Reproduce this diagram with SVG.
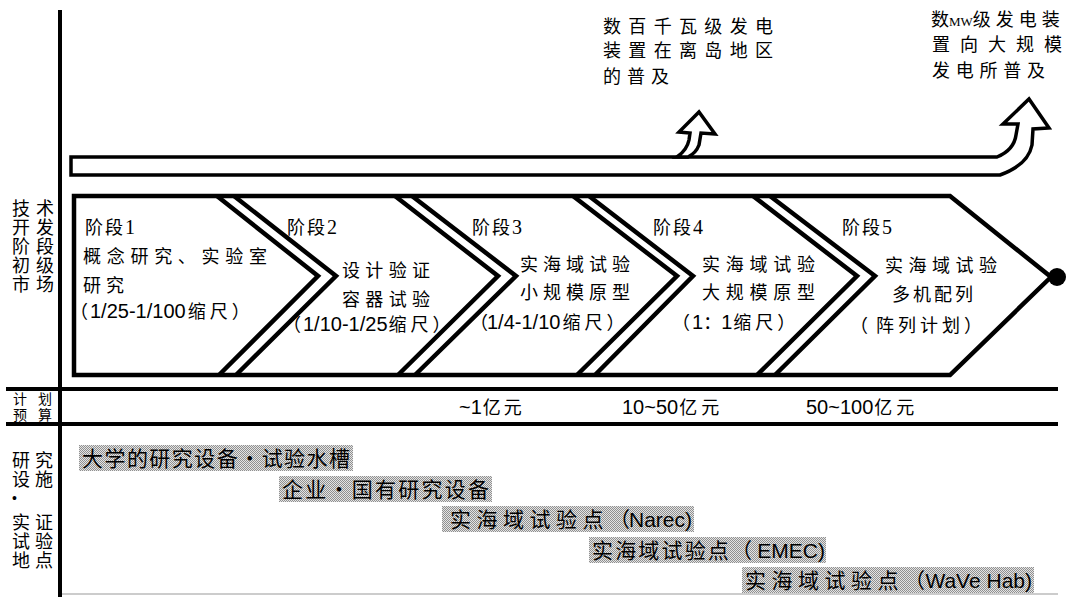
<svg xmlns="http://www.w3.org/2000/svg" width="1074" height="597" viewBox="0 0 1074 597">
<defs>
<style>
.t{font-family:"Liberation Sans","Noto Sans CJK SC",sans-serif;font-size:18px;fill:#000}
.s{font-family:"Liberation Serif","Noto Sans CJK SC",serif;font-size:18px;fill:#000}
.sm{font-family:"Liberation Sans","Noto Sans CJK SC",sans-serif;font-size:14px;fill:#000}
.f{font-family:"Liberation Sans","Noto Sans CJK SC",sans-serif;font-size:21px;fill:#000}
.ln{fill:none;stroke:#000;stroke-width:4.5;stroke-linejoin:miter;stroke-miterlimit:10}
.ax{stroke:#000;stroke-width:4}
.band{fill:#fff;stroke:#000;stroke-width:3.5;stroke-linejoin:miter}
.hb{fill:url(#dots)}
</style>
<pattern id="dots" width="2" height="2" patternUnits="userSpaceOnUse"><rect width="2" height="2" fill="#e4e4e4"/><rect width="1" height="1" fill="#909090"/><rect x="1" y="1" width="1" height="1" fill="#909090"/></pattern>
</defs>
<rect width="1074" height="597" fill="#fff"/>
<g id="axes">
<line class="ax" x1="60" y1="10" x2="60" y2="597"/>
<line class="ax" x1="6" y1="389" x2="1058" y2="389"/>
<line class="ax" x1="6" y1="424" x2="1058" y2="424"/>
<line x1="62" y1="594" x2="1058" y2="594" stroke="#bbb" stroke-width="1.5"/>
</g>
<g id="row-labels">
<text class="t" x="12" y="215" letter-spacing="6">技术</text>
<text class="t" x="12" y="234" letter-spacing="6">开发</text>
<text class="t" x="12" y="253" letter-spacing="6">阶段</text>
<text class="t" x="12" y="272" letter-spacing="6">初级</text>
<text class="t" x="12" y="291" letter-spacing="6">市场</text>
<text class="sm" x="13" y="404" letter-spacing="11">计划</text>
<text class="sm" x="13" y="420" letter-spacing="11">预算</text>
<text class="t" x="12" y="467" letter-spacing="5">研究</text>
<text class="t" x="12" y="486" letter-spacing="5">设施</text>
<text class="sm" x="12" y="503">•</text>
<text class="t" x="12" y="529" letter-spacing="5">实证</text>
<text class="t" x="12" y="548" letter-spacing="5">试验</text>
<text class="t" x="12" y="567" letter-spacing="5">地点</text>
</g>
<g id="connectors">
<path id="band" class="band" d="M71,157 L997,157 Q1014,150 1016,135 L1018,124 L1003,124 L1029,99 L1049,128 L1033,129 L1032,145 Q1028,165 1000,175 L71,175 Z"/>
<path id="branch" class="band" d="M677,157 Q687,150 689,140 L690,133 L679,132 L699,112 L715,134 L701,133 L699,145 Q696,153 688,157 Z"/>
</g>
<g id="outcome1">
<text class="t" x="603" y="33" textLength="170">数百千瓦级发电</text>
<text class="t" x="603" y="57" textLength="170">装置在离岛地区</text>
<text class="t" x="603" y="83" textLength="66">的普及</text>
</g>
<g id="outcome2">
<text class="t" x="931" y="26">数<tspan font-family="Liberation Serif" style="font-size:13px">MW</tspan><tspan letter-spacing="5">级发电装</tspan></text>
<text class="t" x="932" y="51" textLength="130">置向大规模</text>
<text class="t" x="932" y="77" textLength="113">发电所普及</text>
</g>
<g id="stages">
<polygon class="ln" points="74,196 950,196 1051,277 950,375 74,375"/>
<circle cx="1057" cy="277" r="9" fill="#000"/>
<polyline class="ln" points="217,196 318,276 219,375"/>
<polyline class="ln" points="234,196 336,276 236,375"/>
<polyline class="ln" points="395,196 498,276 398,375"/>
<polyline class="ln" points="412,196 516,276 415,375"/>
<polyline class="ln" points="573,196 677,276 577,375"/>
<polyline class="ln" points="589,196 693,276 595,375"/>
<polyline class="ln" points="753,196 857,276 757,375"/>
<polyline class="ln" points="770,196 875,276 775,375"/>
</g>
<g id="stage1">
<text class="s" x="85" y="234" letter-spacing="2">阶段<tspan style="font-size:20px">1</tspan></text>
<text class="t" x="83" y="263" textLength="184">概念研究、实验室</text>
<text class="t" x="83" y="292" letter-spacing="5">研究</text>
<text class="t" y="318"><tspan x="70">（</tspan><tspan x="90" style="font-size:20px">1/25-1/100</tspan><tspan dx="2" letter-spacing="4">缩尺）</tspan></text>
</g>
<g id="stage2">
<text class="s" x="287" y="234" letter-spacing="2">阶段<tspan style="font-size:20px">2</tspan></text>
<text class="t" x="342" y="277" textLength="88">设计验证</text>
<text class="t" x="342" y="306" textLength="88">容器试验</text>
<text class="t" y="331"><tspan x="283">（</tspan><tspan x="303" style="font-size:20px">1/10-1/25</tspan><tspan dx="1" letter-spacing="4">缩尺）</tspan></text>
</g>
<g id="stage3">
<text class="s" x="472" y="234" letter-spacing="2">阶段<tspan style="font-size:20px">3</tspan></text>
<text class="t" x="520" y="271" textLength="110">实海域试验</text>
<text class="t" x="520" y="299" textLength="110">小规模原型</text>
<text class="t" y="329"><tspan x="470">（</tspan><tspan x="487" style="font-size:20px">1/4-1/10</tspan><tspan dx="2" letter-spacing="4">缩尺）</tspan></text>
</g>
<g id="stage4">
<text class="s" x="653" y="234" letter-spacing="2">阶段<tspan style="font-size:20px">4</tspan></text>
<text class="t" x="702" y="271" textLength="113">实海域试验</text>
<text class="t" x="702" y="299" textLength="113">大规模原型</text>
<text class="t" y="329"><tspan x="672">（</tspan><tspan x="692" style="font-size:20px">1</tspan><tspan>：</tspan><tspan style="font-size:20px">1</tspan><tspan dx="1" letter-spacing="4">缩尺）</tspan></text>
</g>
<g id="stage5">
<text class="s" x="842" y="234" letter-spacing="2">阶段<tspan style="font-size:20px">5</tspan></text>
<text class="t" x="885" y="272" textLength="112">实海域试验</text>
<text class="t" x="892" y="301" textLength="81">多机配列</text>
<text class="t" y="332"><tspan x="850">（</tspan><tspan x="876" letter-spacing="4">阵列计划）</tspan></text>
</g>
<g id="budget">
<text class="t" y="414"><tspan x="459" style="font-size:20px">~1</tspan><tspan dx="1" letter-spacing="3">亿元</tspan></text>
<text class="t" y="414"><tspan x="622" style="font-size:20px">10~50</tspan><tspan dx="1" letter-spacing="4">亿元</tspan></text>
<text class="t" y="414"><tspan x="806" style="font-size:20px">50~100</tspan><tspan dx="1" letter-spacing="4">亿元</tspan></text>
</g>
<g id="facility1"><rect class="hb" x="79" y="445" width="274" height="26"/><text class="f" x="82" y="466" textLength="268">大学的研究设备・试验水槽</text></g>
<g id="facility2"><rect class="hb" x="279" y="476" width="213" height="26"/><text class="f" x="282" y="497" textLength="207">企业・国有研究设备</text></g>
<g id="facility3"><rect class="hb" x="442" y="506" width="252" height="26"/><text class="f" x="450" y="527" textLength="180">实海域试验点（</text><text class="f" x="692" y="527" text-anchor="end">Narec)</text></g>
<g id="facility4"><rect class="hb" x="589" y="537" width="237" height="26"/><text class="f" x="592" y="558" textLength="160">实海域试验点（</text><text class="f" x="825" y="558" text-anchor="end">EMEC)</text></g>
<g id="facility5"><rect class="hb" x="742" y="567" width="292" height="26"/><text class="f" x="745" y="588" textLength="180">实海域试验点（</text><text class="f" x="1032" y="588" text-anchor="end">WaVe Hab)</text></g>
</svg>
